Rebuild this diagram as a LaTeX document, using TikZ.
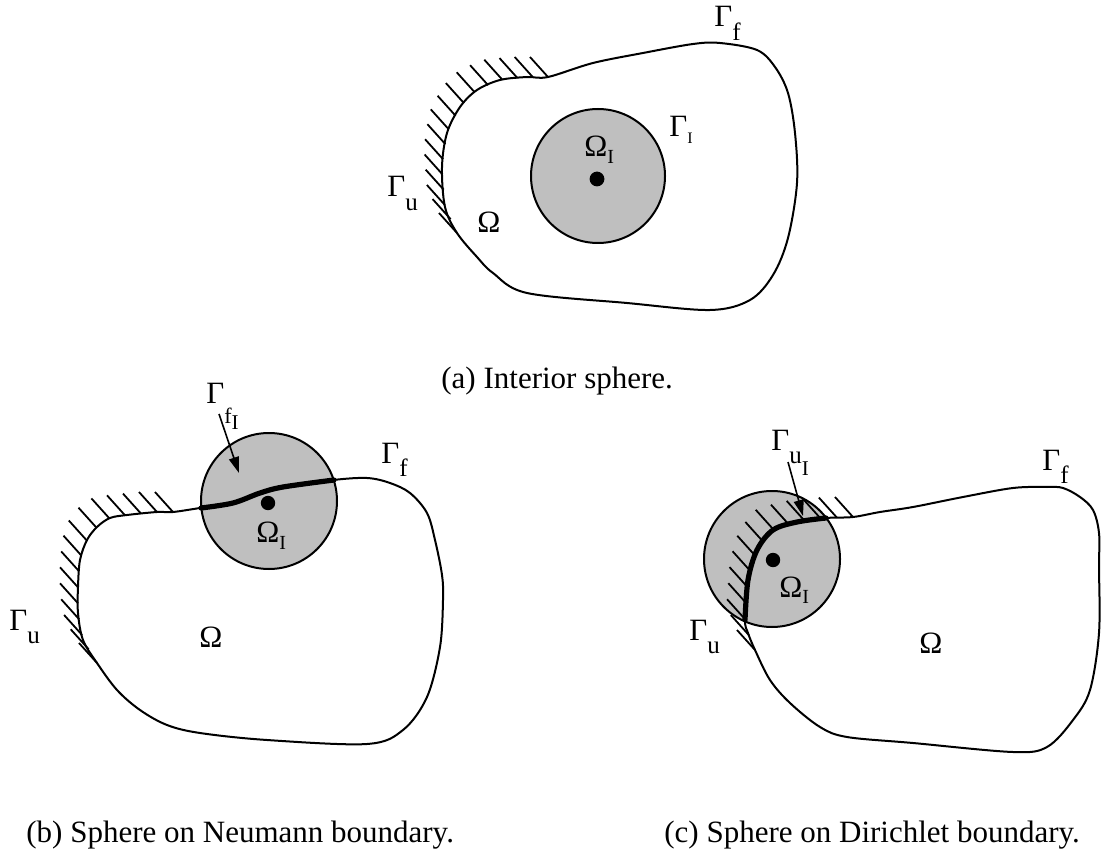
\documentclass[tikz,border=0pt]{standalone}
\usepackage{fontspec}
\setmainfont{Liberation Serif}
\usetikzlibrary{arrows.meta}
\newcommand{\sbx}[3]{\raisebox{#1}{\fontsize{#2}{#2}\selectfont #3}}
\begin{document}
\begin{tikzpicture}[x=0.5pt,y=-0.5pt,
  outline/.style={line width=1pt, line join=round},
  thickseg/.style={line width=2.6pt, line cap=round},
  disk/.style={fill=black!25, draw=black, line width=1pt},
  hatchline/.style={line width=0.9pt},
  lbl/.style={anchor=base west, inner sep=0pt, font=\fontsize{15.5}{18}\selectfont},
  arr/.style={-{Triangle[length=8pt,width=5pt]}, line width=0.8pt},
  dot/.style={fill=black}]
\useasboundingbox (0,0) rectangle (1102,855);

% ---------------- (a) ----------------
\draw[outline] plot[smooth cycle, tension=0.55] coordinates {
 (548,77) (593,63) (643,53) (693,44) (720,43) (757,50) (775,67) (788,93) (795,133)
 (797,183) (788,238) (773,275) (750,300) (710,310) (627,303) (527,293) (493,273)
 (477,257) (457,233) (445,207) (442,167) (447,133) (460,107) (477,90) (500,80) (527,77)};
\foreach \hx/\hy in {457/233, 450.6/219.1, 444.9/205, 443.7/189.7, 442.6/174.5, 443.1/159.3,
  445.4/144.2, 448.8/129.4, 455.6/115.8, 463.9/103.1, 474.7/92.3, 488.1/85.2, 502.3/79.7,
  517.5/78.1, 532.7/77, 548/77}
  \draw[hatchline] (\hx,\hy) -- ++(-18,-20);
\draw[disk] (598,176) circle[radius=33.5pt];
\fill[dot] (597,179) circle[radius=3.7pt];
\node[lbl] (aGf) at (714,27) {Γ\sbx{-0.42em}{12.5}{f}};
\node[lbl] (aGI) at (669,137) {Γ\sbx{-0.2em}{8}{I}};
\node[lbl] (aOI) at (584,157) {Ω\sbx{-0.2em}{10}{I}};
\node[lbl] (aGu) at (387,197) {Γ\sbx{-0.42em}{12.5}{u}};
\node[lbl] (aO) at (477,233) {Ω};
\node[lbl] (acap) at (441,388) {(a) Interior sphere.};

% ---------------- (b) ----------------
\draw[outline] plot[smooth cycle, tension=0.55] coordinates {
 (173,512) (200,508) (233,503) (260,493) (283,487) (333,480) (367,478) (390,483)
 (410,493) (427,513) (435,540) (442,575) (443,600) (440,647) (427,697) (403,730)
 (367,744) (267,740) (200,733) (167,725) (140,710) (117,690) (97,663) (83,640)
 (78,613) (78,587) (80,560) (87,540) (97,527) (110,518) (127,515) (157,512)};
\foreach \hx/\hy in {97/663, 88.7/649.3, 82.1/635, 79.2/619.3, 78/603.3, 78/587.3, 79.2/571.4,
  81.5/555.7, 86.8/540.5, 96.5/527.7, 109.4/518.4, 125/515.3, 141/513.6, 157/512, 173/512}
  \draw[hatchline] (\hx,\hy) -- ++(-18,-20);
\draw[disk] (269,501) circle[radius=34pt];
\draw[thickseg] plot[smooth, tension=0.55] coordinates {(201,508) (233,503) (260,493) (283,487) (334,480)};
\fill[dot] (268,503) circle[radius=3.6pt];
\node[lbl] (bGfI) at (206,403) {Γ\sbx{-0.65em}{11}{f\sbx{-0.3em}{10.5}{I}}};
\coordinate (bA1) at (219,414);
\coordinate (bA2) at (239,473);
\draw[arr] (bA1) -- (bA2);
\node[lbl] (bGf) at (381,463) {Γ\sbx{-0.42em}{12.5}{f}};
\node[lbl] (bOI) at (256,542) {Ω\sbx{-0.25em}{10}{I}};
\node[lbl] (bGu) at (9,630) {Γ\sbx{-0.42em}{12.5}{u}};
\node[lbl] (bO) at (199,647) {Ω};
\node[lbl] (bcap) at (26,842) {(b) Sphere on Neumann boundary.};

% ---------------- (c) ----------------
\draw[outline] plot[smooth cycle, tension=0.55] coordinates {
 (853,517) (880,512) (913,507) (963,497) (1013,488) (1047,487) (1063,488) (1080,497)
 (1093,510) (1099,533) (1099,567) (1099,633) (1090,690) (1073,720) (1047,747)
 (1013,752) (913,743) (847,737) (820,727) (790,703) (770,680) (755,650) (748,633)
 (745,620) (748,580) (757,550) (773,530) (797,522) (826,518)};
\draw[disk] (772,559) circle[radius=34pt];
\foreach \hx/\hy in {755/650, 748.8/635, 745.1/619.3, 746.3/603.2, 747.5/587.1, 750.6/571.3,
  755.3/555.8, 763.4/542, 773.7/529.8, 789/524.7, 804.7/520.9, 820.8/518.7, 836.9/517.6, 853/517}
  \draw[hatchline] (\hx,\hy) -- ++(-18,-20);
\draw[thickseg] plot[smooth, tension=0.55] coordinates {(745,620) (748,580) (757,550) (773,530) (797,522) (826,518)};
\fill[dot] (773,560) circle[radius=3.6pt];
\node[lbl] (cGuI) at (771,450) {Γ\sbx{-0.42em}{12.5}{u\sbx{-0.5em}{10.5}{I}}};
\coordinate (cA1) at (788,462);
\coordinate (cA2) at (803,516);
\draw[arr] (cA1) -- (cA2);
\node[lbl] (cGf) at (1042,470) {Γ\sbx{-0.42em}{12.5}{f}};
\node[lbl] (cOI) at (779,597) {Ω\sbx{-0.2em}{10}{I}};
\node[lbl] (cGu) at (689,640) {Γ\sbx{-0.42em}{12.5}{u}};
\node[lbl] (cO) at (919,653) {Ω};
\node[lbl] (ccap) at (664,842) {(c) Sphere on Dirichlet boundary.};
\end{tikzpicture}
\end{document}
